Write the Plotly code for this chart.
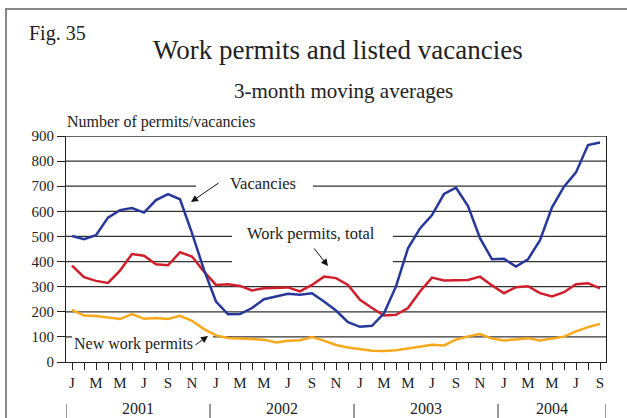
import plotly.graph_objects as go

# ---------------- data ----------------
month_initials = ["J", "F", "M", "A", "M", "J", "J", "A", "S", "O", "N", "D"]
years = ["2001", "2002", "2003", "2004"]
n_months = 45  # Jan 2001 .. Sep 2004

vacancies = [502, 489, 505, 575, 605, 613, 595, 645, 669, 648, 513, 367, 241, 190, 191,
             215, 250, 261, 272, 268, 274, 241, 205, 159, 140, 144, 194,
             301, 453, 532, 585, 669, 694, 621, 493, 409, 411, 380, 409, 485, 616, 698, 755, 864, 874]
work_permits_total = [384, 338, 323, 315, 364, 430, 423, 389, 385, 437, 420, 360, 307, 310, 303,
                      285, 294, 295, 297, 281, 307, 340, 334, 307, 248, 215, 185, 188,
                      215, 281, 336, 325, 325, 327, 340, 305, 274, 298, 302, 274, 261, 278, 310, 314, 293]
new_work_permits = [208, 185, 183, 176, 171, 191, 172, 175, 171, 184, 164, 131, 106, 96, 94,
                    89, 89, 78, 85, 87, 99, 85, 68, 58, 52, 45, 44, 47,
                    54, 62, 69, 66, 89, 102, 111, 93, 86, 90, 95, 86, 95, 101, 122, 139, 151]

y_ticks = list(range(0, 1000, 100))

# ---------------- layout geometry ----------------
W, H = 627, 418
L, R, T, B = 66, 21, 136, 56
PW, PH = W - L - R, H - T - B


def px(x):
    return (x - L) / PW


def py(y):
    return (H - B - y) / PH


FONT = "Liberation Serif, Times New Roman, serif"
x = list(range(n_months))
tick_text = [month_initials[i % 12] if i % 2 == 0 else "" for i in x]

fig = go.Figure()
fig.add_trace(go.Scatter(x=x, y=new_work_permits, mode="lines",
                         line=dict(color="#F7A81B", width=2.5), name="New work permits"))
fig.add_trace(go.Scatter(x=x, y=work_permits_total, mode="lines",
                         line=dict(color="#D01F2C", width=2.5), name="Work permits, total"))
fig.add_trace(go.Scatter(x=x, y=vacancies, mode="lines",
                         line=dict(color="#27389A", width=2.5), name="Vacancies"))

shapes = []
grid_color = "#333333"
# gridlines with gaps behind the text labels (pixel x extents)
grid_segments = {
    100: [(66, 72), (213, 606)],
    200: [(66, 606)],
    300: [(66, 606)],
    400: [(66, 232), (393, 606)],
    500: [(66, 232), (393, 606)],
    600: [(66, 606)],
    700: [(66, 196), (313, 606)],
    800: [(66, 606)],
    900: [(66, 606)],
}
for val, segs in grid_segments.items():
    for x0, x1 in segs:
        shapes.append(dict(type="line", xref="paper", yref="y", x0=px(x0), x1=px(x1),
                           y0=val, y1=val, line=dict(color=grid_color, width=1.3), layer="below"))

# year separators
for sx in [-0.5, 11.5, 23.5, 35.5, 44.5]:
    shapes.append(dict(type="line", xref="x", yref="paper", x0=sx, x1=sx,
                       y0=py(404), y1=py(422), line=dict(color="#333", width=1)))

# outer frame
shapes.append(dict(type="rect", xref="paper", yref="paper", x0=px(6), x1=px(632),
                   y0=py(430), y1=py(9), line=dict(color="#888", width=2)))

annotations = []


def text(t, x_, y_, size, xanchor="center"):
    annotations.append(dict(text=t, xref="paper", yref="paper", x=px(x_), y=py(y_),
                            xanchor=xanchor, yanchor="middle", showarrow=False,
                            font=dict(family=FONT, size=size, color="#222")))


text("Fig. 35", 27, 33, 20, "left")
text("Work permits and listed vacancies", 338, 50, 27)
text("3-month moving averages", 343, 91, 21)
text("Number of permits/vacancies", 65, 122, 16, "left")
text("Vacancies", 263, 183, 16.5)
text("Work permits, total", 311, 233, 16.5)
text("New work permits", 72, 344, 16, "left")

year_centers = [5.5, 17.5, 29.5, 40]
for yr, cx in zip(years, year_centers):
    annotations.append(dict(text=yr, xref="x", yref="paper", x=cx, y=py(408),
                            showarrow=False, xanchor="center", yanchor="middle",
                            font=dict(family=FONT, size=16, color="#222")))


def arrow(hx, hy, tx, ty):
    annotations.append(dict(text="", xref="paper", yref="paper", x=px(hx), y=py(hy),
                            ax=tx - hx, ay=ty - hy, showarrow=True, arrowhead=2,
                            arrowsize=1.4, arrowwidth=1, arrowcolor="#111"))


arrow(191, 202, 220, 182)
arrow(328, 266, 313, 247)
arrow(208, 336, 194, 346)

fig.update_layout(
    width=W, height=H,
    margin=dict(l=L, r=R, t=T, b=B),
    paper_bgcolor="white", plot_bgcolor="white",
    showlegend=False,
    shapes=shapes,
    annotations=annotations,
    font=dict(family=FONT, size=15, color="#222"),
)
fig.update_xaxes(range=[-0.5, 44.5], tickmode="array", tickvals=x, ticktext=tick_text,
                 ticks="outside", ticklen=7, tickcolor="#222", showgrid=False, zeroline=False,
                 showline=True, linecolor="#222", linewidth=1.2,
                 tickfont=dict(family=FONT, size=15, color="#222"))
fig.update_yaxes(range=[0, 900], tickvals=y_ticks, ticks="outside", ticklen=8, tickcolor="#222",
                 showgrid=False, zeroline=False, showline=True, mirror=True,
                 linecolor="#222", linewidth=1.2,
                 tickfont=dict(family=FONT, size=15, color="#222"))

fig.write_html("out.html", config={"displayModeBar": False},
               post_script="document.body.style.margin='0';")
